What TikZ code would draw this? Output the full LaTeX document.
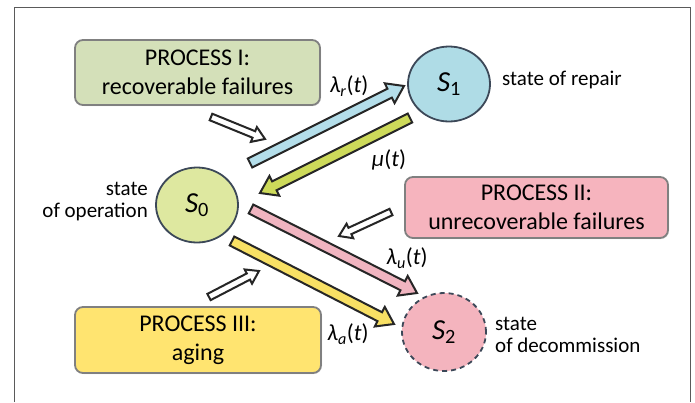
\documentclass[tikz,border=0pt]{standalone}
\usepackage{fontspec}
\setmainfont{Carlito}
\usetikzlibrary{calc,shapes.geometric,shadows}
\definecolor{boxIc}{RGB}{212,224,185}
\definecolor{boxIIc}{RGB}{246,180,190}
\definecolor{boxIIIc}{RGB}{255,228,112}
\definecolor{szero}{RGB}{222,232,160}
\definecolor{sone}{RGB}{175,220,230}
\definecolor{stwo}{RGB}{244,180,190}
\definecolor{arrR}{RGB}{180,222,234}
\definecolor{arrMu}{RGB}{205,218,90}
\definecolor{arrU}{RGB}{240,180,192}
\definecolor{arrA}{RGB}{248,224,100}
\definecolor{framec}{RGB}{90,90,90}
\definecolor{circborder}{RGB}{60,72,88}
\newcommand\blockarrow[6]{%
  \path ($(#2)!#6!(#1)$) coordinate (hb);
  \draw[arrowline, fill=#3] ($(#1)!#4!90:(#2)$) -- ($(hb)!#4!90:(#2)$) -- ($(hb)!#5!90:(#2)$) -- (#2) -- ($(hb)!#5!-90:(#2)$) -- ($(hb)!#4!-90:(#2)$) -- ($(#1)!#4!-90:(#2)$) -- cycle;}
\tikzset{
  arrowline/.style={draw=black!85, line width=2pt, line join=miter},
  procbox/.style={draw=black!50, line width=1.8pt, rounded corners=8pt, align=center,
    font=\fontsize{24}{29}\selectfont, drop shadow={shadow xshift=1pt, shadow yshift=-1pt, opacity=0.25}},
  statenode/.style={ellipse, draw=circborder, line width=1.8pt, minimum width=82pt, minimum height=75pt,
    inner sep=0pt, font=\fontsize{29}{32}\selectfont},
  desc/.style={font=\fontsize{21}{22}\selectfont, inner sep=0pt},
  ratelabel/.style={font=\fontsize{23}{26}\selectfont, inner sep=0pt},
}
\begin{document}
\begin{tikzpicture}[x=1pt, y=-1pt]
\useasboundingbox (0,0) rectangle (695,402);
\draw[framec, line width=1.3pt] (14.5,402) -- (14.5,7.5) -- (690.5,7.5) -- (690.5,402);

% process boxes
\node[procbox, fill=boxIc, minimum width=245pt, minimum height=65pt] (p1) at (197.5,72.5) {PROCESS I:\\recoverable failures};
\node[procbox, fill=boxIIc, minimum width=263pt, minimum height=61pt] (p2) at (536.5,207.5) {PROCESS II:\\unrecoverable failures};
\node[procbox, fill=boxIIIc, minimum width=246pt, minimum height=66pt] (p3) at (198,340) {PROCESS III:\\aging};

% states
\node[statenode, fill=szero] (s0) at (197,205) {\textit{S}\textsubscript{0}};
\node[statenode, fill=sone] (s1) at (449,84) {\textit{S}\textsubscript{1}};
\node[statenode, fill=stwo, dashed, dash pattern=on 5pt off 4pt, minimum width=84pt, minimum height=78pt] (s2) at (444,332) {\textit{S}\textsubscript{2}};

% descriptions
\node[desc, anchor=west] (d1) at (502,80) {state of repair};
\node[desc, anchor=east, align=right] (d0) at (148,202) {state\\of operation};
\node[desc, anchor=west, align=left] (d2) at (495,335) {state\\of decommission};

% big transition arrows
\coordinate (rT) at (250,163); \coordinate (rH) at (404,86);
\coordinate (mT) at (410,118); \coordinate (mH) at (260,193);
\coordinate (uT) at (251,209); \coordinate (uH) at (417,293);
\coordinate (aT) at (232,241); \coordinate (aH) at (394,324);
\blockarrow{rT}{rH}{arrR}{5pt}{11pt}{16pt}
\blockarrow{mT}{mH}{arrMu}{5pt}{11pt}{16pt}
\blockarrow{uT}{uH}{arrU}{5pt}{11pt}{16pt}
\blockarrow{aT}{aH}{arrA}{5pt}{11pt}{16pt}

% small influence arrows
\coordinate (iT) at (211,117); \coordinate (iH) at (265,139);
\coordinate (jT) at (391,212); \coordinate (jH) at (339,236);
\coordinate (kT) at (209,297); \coordinate (kH) at (259,271);
\blockarrow{iT}{iH}{white}{3.5pt}{8pt}{12pt}
\blockarrow{jT}{jH}{white}{3.5pt}{8pt}{12pt}
\blockarrow{kT}{kH}{white}{3.5pt}{8pt}{12pt}

% rate labels
\node[ratelabel] (lr) at (349,86) {\textit{λ}\textsubscript{\textit{r}}(\textit{t})};
\node[ratelabel] (lm) at (389,160) {\textit{μ}(\textit{t})};
\node[ratelabel] (lu) at (407,258) {\textit{λ}\textsubscript{\textit{u}}(\textit{t})};
\node[ratelabel] (la) at (348,334) {\textit{λ}\textsubscript{\textit{a}}(\textit{t})};
\end{tikzpicture}
\end{document}
